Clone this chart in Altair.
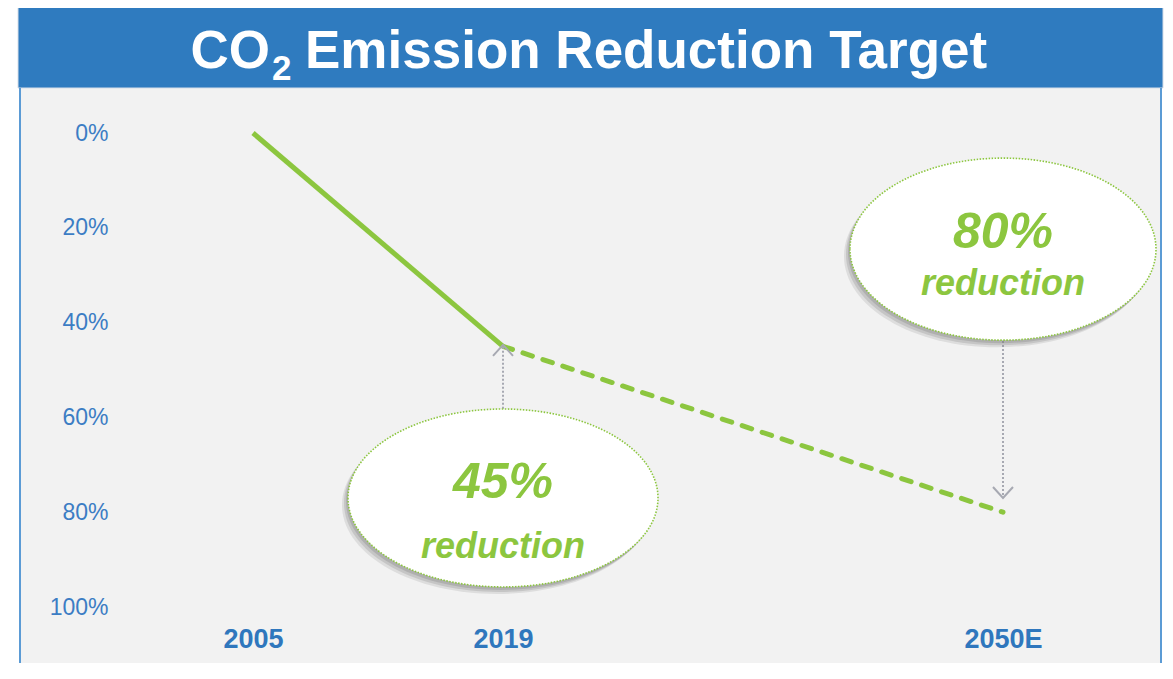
import altair as alt
import pandas as pd

# ---- data ----
years = ["2005", "2019", "2050E"]
reduction = [0, 45, 80]          # % reduction vs 2005
x_domain = ["2005", "2019", " ", "2050E"]
y_ticks = [0, 20, 40, 60, 80, 100]

# call-out annotations (in data units: year column, % axis)
callout_year = ["2019", "2050E"]
callout_big = ["45%", "80%"]
callout_small = ["reduction", "reduction"]
callout_center = [77.0, 24.5]
callout_big_y = [77.0, 24.3]
callout_small_y = [89.7, 34.2]
arrow_from = [58.2, 43.9]
arrow_to = [44.7, 77.0]

GREEN = "#8CC63F"
BLUE = "#2F7BBF"
GREY = "#A7A9B2"
FONT = "Liberation Sans"

W, H = 1143, 575

x_scale = alt.Scale(type="point", domain=x_domain, range=[234, 984], padding=0)
y_scale = alt.Scale(domain=[0, 100], range=[45, 519])

x_axis = alt.Axis(orient="bottom", offset=-24, ticks=False, tickSize=0, domain=False,
                  grid=False, labelPadding=0, labelBaseline="middle", labelAngle=0,
                  labelFont=FONT, labelFontSize=27, labelFontWeight="bold",
                  labelColor="#2F77BD", title=None)
y_axis = alt.Axis(orient="left", offset=-89, values=y_ticks, labelExpr="datum.value + '%'",
                  ticks=False, tickSize=0, domain=False, grid=False, labelPadding=0,
                  labelAlign="right", labelFont=FONT, labelFontSize=23,
                  labelColor="#3C7DC4", title=None)

line_df = pd.DataFrame({"year": years, "reduction": reduction})
solid_df = line_df.iloc[:2]
dash_df = line_df.iloc[1:]


def X(f="year"):
    return alt.X(f + ":N", scale=x_scale, sort=x_domain, axis=x_axis)


def Y(f):
    return alt.Y(f + ":Q", scale=y_scale, axis=y_axis)


one = pd.DataFrame({"k": [0]})

# title bar + panel borders
bar = alt.Chart(one).mark_rect(color=BLUE, stroke="#D6DEE8", strokeWidth=1).encode(
    x=alt.value(-1), x2=alt.value(W + 1), y=alt.value(-83), y2=alt.value(0))
border_l = alt.Chart(one).mark_rule(color="#5B9BD5", strokeWidth=2).encode(
    x=alt.value(1), y=alt.value(0), y2=alt.value(H))
border_r = alt.Chart(one).mark_rule(color="#5B9BD5", strokeWidth=2).encode(
    x=alt.value(W - 1), y=alt.value(0), y2=alt.value(H))

title_co = alt.Chart(one).mark_text(text="CO", font=FONT, fontSize=53, fontWeight="bold",
                                    color="white", align="right", baseline="alphabetic").encode(
    x=alt.value(251), y=alt.value(-20))
title_2 = alt.Chart(one).mark_text(text="2", font=FONT, fontSize=35, fontWeight="bold",
                                   color="white", align="left", baseline="alphabetic").encode(
    x=alt.value(253), y=alt.value(-8))
title_rest = alt.Chart(one).mark_text(text="Emission Reduction Target", font=FONT, fontSize=53,
                                      fontWeight="bold", color="white", align="left",
                                      baseline="alphabetic").encode(
    x=alt.value(286), y=alt.value(-20))

solid = alt.Chart(solid_df).mark_line(color=GREEN, strokeWidth=5).encode(
    x=X(), y=Y("reduction"))
dashed = alt.Chart(dash_df).mark_line(color=GREEN, strokeWidth=5, strokeDash=[10, 11],
                                      strokeCap="round").encode(
    x=X(), y=Y("reduction"))

arrow_df = pd.DataFrame({"year": callout_year, "from": arrow_from, "to": arrow_to})
arrows = alt.Chart(arrow_df).mark_rule(color=GREY, strokeWidth=2, strokeDash=[2, 2]).encode(
    x=X(), y=Y("from"), y2="to")
head_up = alt.Chart(arrow_df.iloc[:1]).mark_point(
    shape="M -1 1.1 L 0 0 L 1 1.1", size=400, filled=False, color=GREY,
    strokeWidth=2, opacity=1).encode(x=X(), y=Y("to"))
head_down = alt.Chart(arrow_df.iloc[1:]).mark_point(
    shape="M -1 -1.1 L 0 0 L 1 -1.1", size=400, filled=False, color=GREY,
    strokeWidth=2, opacity=1).encode(x=X(), y=Y("to"))


def ellipse_path(ry, dx=0.0, dy=0.0):
    return (f"M {-1 + dx:.4f} {dy:.4f} A 1 {ry} 0 1 0 {1 + dx:.4f} {dy:.4f} "
            f"A 1 {ry} 0 1 0 {-1 + dx:.4f} {dy:.4f} Z")


call_df = pd.DataFrame({"year": callout_year, "c": callout_center, "big": callout_big,
                        "small": callout_small, "by": callout_big_y, "sy": callout_small_y})

ellipse_layers = []
for i, (rx, ry) in enumerate([(155, 0.574), (153, 0.595)]):
    d = call_df.iloc[i:i + 1]
    size = (2 * rx) ** 2
    for (ox, oy, op) in [(-6, 7, 0.18), (-4, 5, 0.25), (-2, 3, 0.3)]:
        ellipse_layers.append(alt.Chart(d).mark_point(
            shape=ellipse_path(ry, ox / rx, oy / rx), size=size, filled=True,
            fill="#7F7F7F", opacity=op, strokeWidth=0).encode(x=X(), y=Y("c")))
    ellipse_layers.append(alt.Chart(d).mark_point(
        shape=ellipse_path(ry), size=size, filled=True, fill="white", opacity=1,
        stroke=GREEN, strokeWidth=1.6, strokeDash=[1.5, 1.5]).encode(x=X(), y=Y("c")))

big_txt = alt.Chart(call_df).mark_text(font=FONT, fontSize=50, fontWeight="bold",
                                       fontStyle="italic", color=GREEN,
                                       baseline="alphabetic").encode(
    x=X(), y=Y("by"), text="big:N")
small_txt = alt.Chart(call_df).mark_text(font=FONT, fontSize=36, fontWeight="bold",
                                         fontStyle="italic", color=GREEN,
                                         baseline="alphabetic").encode(
    x=X(), y=Y("sy"), text="small:N")

chart = alt.layer(
    solid, bar, border_l, border_r, title_co, title_2, title_rest,
    dashed, arrows, *ellipse_layers, big_txt, small_txt, head_up, head_down
).properties(
    width=W, height=H,
    autosize=alt.AutoSizeParams(type="none"),
    padding={"left": 11, "top": 80, "right": 3, "bottom": 0},
    background="white",
).configure_view(fill="#F2F2F2", strokeWidth=0)

chart.save("out.html", embed_options={"renderer": "svg", "actions": False})
